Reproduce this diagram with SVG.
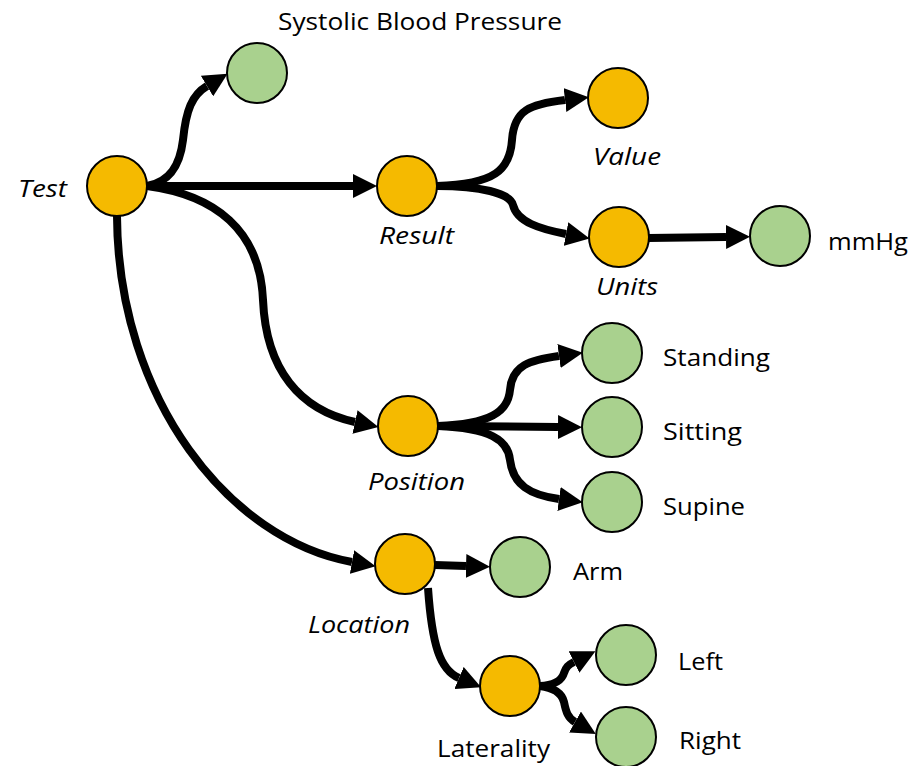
<svg xmlns="http://www.w3.org/2000/svg" width="915" height="766" viewBox="0 0 915 766">
<style>
.o{fill:#F5BA00;stroke:#000;stroke-width:2}
.g{fill:#A9D18E;stroke:#000;stroke-width:2}
.c{fill:none;stroke:#000;stroke-width:8;marker-end:url(#ah)}
text{font-family:"Open Sans","Liberation Sans",sans-serif;font-size:24px;fill:#000}
.i{font-style:italic}
</style>
<defs>
<marker id="ah" markerUnits="userSpaceOnUse" markerWidth="24" markerHeight="24" viewBox="0 0 24 24" refX="0" refY="12" orient="auto">
<path d="M0,0 L24,12 L0,24 z" fill="#000"/>
</marker>
</defs>
<rect width="915" height="766" fill="#fff"/>
<g id="connectors">
<path class="c" d="M147,186 C170,182 180,165 183,140 C186,110 192,95 207,86"/>
<path class="c" d="M147,186 L353,186"/>
<path class="c" d="M147,186 C215,195 260,230 263,300 C266,370 300,410 355,422"/>
<path class="c" d="M117,216 C118,400 230,540 352,562"/>
<path class="c" d="M437,186 C495,184 510,170 512,140 C514,110 530,104 565,100"/>
<path class="c" d="M437,186 C480,186 510,193 513,205 C517,222 540,229 566,234"/>
<path class="c" d="M648,238 L726,237"/>
<path class="c" d="M438,426 C490,424 508,412 510,390 C512,365 530,360 559,356"/>
<path class="c" d="M438,426 L558,427"/>
<path class="c" d="M438,426 C490,428 508,440 510,460 C513,485 530,495 559,499"/>
<path class="c" d="M435,565 L466,566"/>
<path class="c" d="M428,588 C432,645 440,670 459,678"/>
<path class="c" d="M540,686 C556,685 562,680 564,673 C566,667 568,665 574,662"/>
<path class="c" d="M540,686 C556,688 562,694 564,702 C566,712 568,718 575,722"/>
</g>
<g id="test"><circle class="o" cx="117" cy="186" r="30"/><text class="i" x="18" y="197" textLength="49" lengthAdjust="spacingAndGlyphs">Test</text></g>
<g id="systolic"><circle class="g" cx="257" cy="73" r="30"/><text x="278" y="30" textLength="284" lengthAdjust="spacingAndGlyphs">Systolic Blood Pressure</text></g>
<g id="result"><circle class="o" cx="407" cy="186" r="30"/><text class="i" x="379" y="244" textLength="75" lengthAdjust="spacingAndGlyphs">Result</text></g>
<g id="value"><circle class="o" cx="618" cy="98" r="30"/><text class="i" x="593" y="165" textLength="68" lengthAdjust="spacingAndGlyphs">Value</text></g>
<g id="units"><circle class="o" cx="619" cy="237" r="30"/><text class="i" x="596" y="295" textLength="62" lengthAdjust="spacingAndGlyphs">Units</text></g>
<g id="mmhg"><circle class="g" cx="780" cy="236" r="30"/><text x="828" y="250" textLength="80" lengthAdjust="spacingAndGlyphs">mmHg</text></g>
<g id="position"><circle class="o" cx="408" cy="426" r="30"/><text class="i" x="368" y="490" textLength="97" lengthAdjust="spacingAndGlyphs">Position</text></g>
<g id="standing"><circle class="g" cx="612" cy="353" r="30"/><text x="663" y="366" textLength="107" lengthAdjust="spacingAndGlyphs">Standing</text></g>
<g id="sitting"><circle class="g" cx="612" cy="427" r="30"/><text x="663" y="440" textLength="79" lengthAdjust="spacingAndGlyphs">Sitting</text></g>
<g id="supine"><circle class="g" cx="612" cy="502" r="30"/><text x="663" y="515" textLength="82" lengthAdjust="spacingAndGlyphs">Supine</text></g>
<g id="location"><circle class="o" cx="405" cy="564" r="30"/><text class="i" x="308" y="633" textLength="102" lengthAdjust="spacingAndGlyphs">Location</text></g>
<g id="arm"><circle class="g" cx="520" cy="567" r="30"/><text x="573" y="580" textLength="50" lengthAdjust="spacingAndGlyphs">Arm</text></g>
<g id="laterality"><circle class="o" cx="510" cy="686" r="30"/><text x="437" y="757" textLength="113" lengthAdjust="spacingAndGlyphs">Laterality</text></g>
<g id="left"><circle class="g" cx="626" cy="655" r="30"/><text x="678" y="670" textLength="45" lengthAdjust="spacingAndGlyphs">Left</text></g>
<g id="right"><circle class="g" cx="626" cy="737" r="30"/><text x="679" y="749" textLength="62" lengthAdjust="spacingAndGlyphs">Right</text></g>
</svg>
